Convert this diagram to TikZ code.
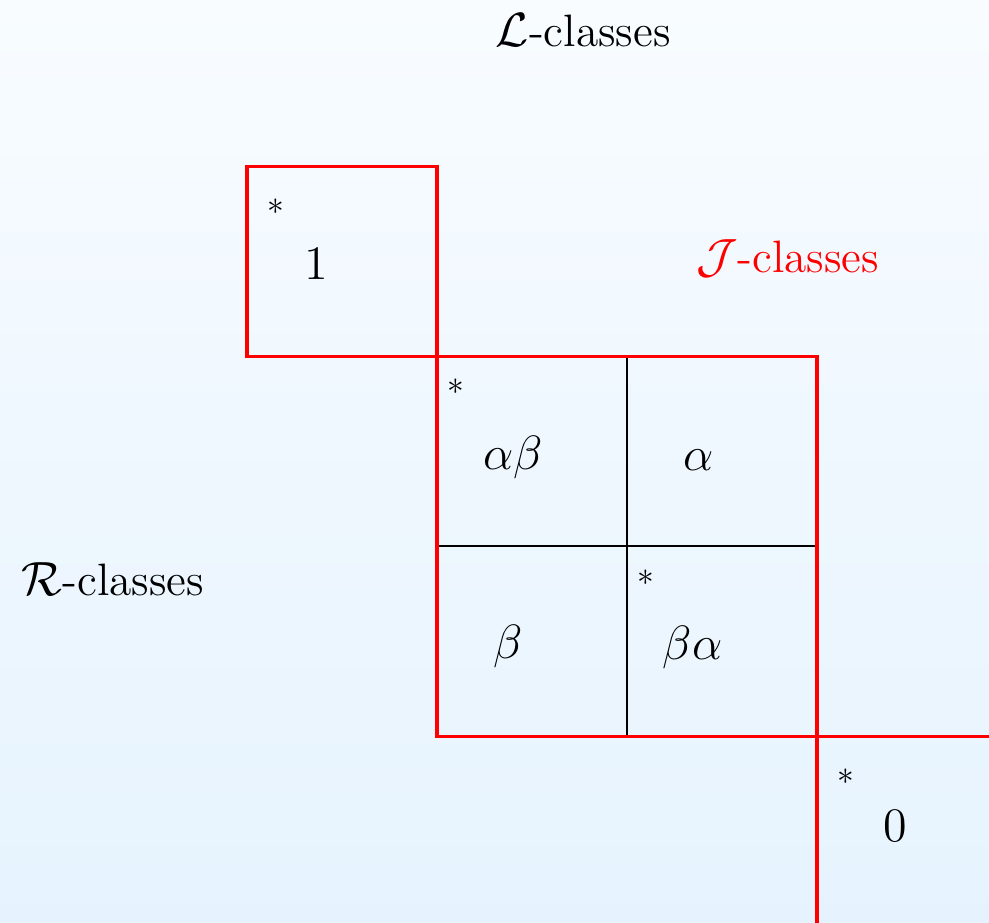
\documentclass[tikz,border=0pt]{standalone}
\usetikzlibrary{math,positioning}

\definecolor{bgtop}{RGB}{248,252,255}
\definecolor{bgbottom}{RGB}{230,243,254}

\begin{document}
\begin{tikzpicture}[
	cellbox/.style={draw=black, line width=0.7pt, minimum size=2cm, inner sep=0pt, outer sep=0pt},
	jclass/.style={draw=red, line width=1pt},
	elem/.style={font=\Large, inner sep=0pt},
	idem/.style={inner sep=0pt},
	classlabel/.style={font=\fontsize{13.6pt}{16pt}\selectfont, inner sep=0pt},
]
	% Constants
	\tikzmath{
		\picwidth = 10.41; \picheight = 9.705;
	}

	% Background
	\shade[top color=bgtop, bottom color=bgbottom] (0, 0) rectangle (\picwidth, -\picheight);
	\useasboundingbox (0, 0) rectangle (\picwidth, -\picheight);

	% H-classes
	\foreach \name/\cx/\cy in {one/3.6/-2.75, ab/5.6/-4.75, a/7.6/-4.75, b/5.6/-6.75, ba/7.6/-6.75, zero/9.6/-8.75} {
			\node[cellbox] (\name) at (\cx, \cy) {};
		}

	% Elements
	\foreach \name/\dx/\dy/\elem in {one/0.73/-1.03/1, ab/0.8/-1.07/\alpha\beta, a/0.75/-1.09/\alpha, b/0.75/-1.06/\beta, ba/0.69/-1.07/\beta\alpha, zero/0.82/-0.94/0} {
			\node[elem] (\name-elem) at ([shift={(\dx, \dy)}]\name.north west) {$\elem$};
		}

	% Idempotents
	\foreach \name/\dx/\dy in {one/0.3/-0.43, ab/0.2/-0.32, ba/0.2/-0.33, zero/0.3/-0.43} {
			\node[idem] (\name-star) at ([shift={(\dx, \dy)}]\name.north west) {$\ast$};
		}

	% J-classes
	\draw[jclass] (one.north west) rectangle (one.south east);
	\draw[jclass] (ab.north west) rectangle (ba.south east);
	\draw[jclass] (zero.north west) rectangle (zero.south east);

	% Class names
	\node[classlabel] (lclasses) at (6.14, -0.32) {$\mathcal{L}$-classes};
	\node[classlabel, text=red] (jclasses) at (8.29, -2.72) {$\mathcal{J}$-classes};
	\node[classlabel] (rclasses) at (1.19, -6.1) {$\mathcal{R}$-classes};
\end{tikzpicture}
\end{document}
